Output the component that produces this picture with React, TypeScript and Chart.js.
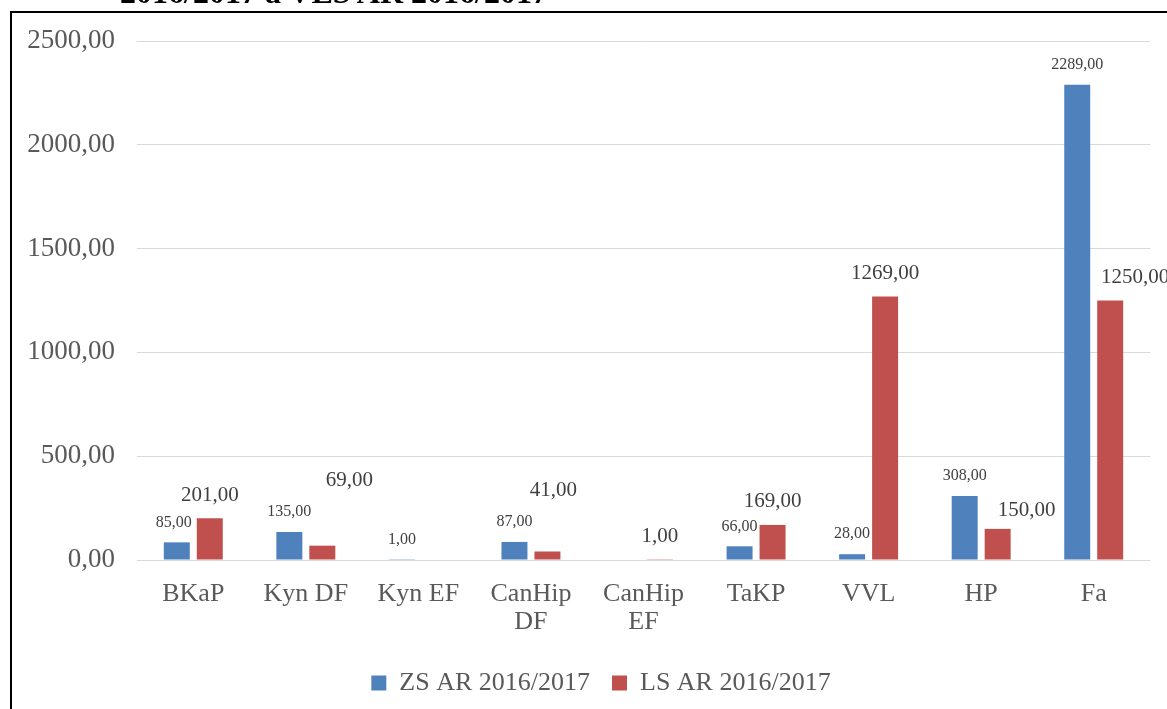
import React, { useEffect, useRef } from "react";
import { Chart, registerables } from "chart.js";

Chart.register(...registerables);

const categories: (string | string[])[] = [
  "BKaP",
  "Kyn DF",
  "Kyn EF",
  ["CanHip", "DF"],
  ["CanHip", "EF"],
  "TaKP",
  "VVL",
  "HP",
  "Fa",
];
const zsValues: (number | null)[] = [85, 135, 1, 87, null, 66, 28, 308, 2289];
const lsValues: (number | null)[] = [201, 69, null, 41, 1, 169, 1269, 150, 1250];
const yTicks = [0, 500, 1000, 1500, 2000, 2500];
const seriesNames = ["ZS AR 2016/2017", "LS AR 2016/2017"];
const titleText = "2016/2017 a VLS AR 2016/2017";

// manual nudges of individual value labels (as placed in the original)
const zsLabelShift: [number, number][] = [[-3, 0], [0, 0], [0, 0], [0, 0], [0, 0], [0, 0], [0, 0], [0, 0], [0, 0]];
const lsLabelShift: [number, number][] = [[0, 0], [27, -42], [0, 0], [6, -38], [0, 0], [0, 0], [0, 0], [29, 5], [25, 0]];

const FONT = "'Times New Roman', 'Liberation Serif', serif";
const fmt = (v: number) => v.toFixed(2).replace(".", ",");

const labelStyles = [
  { size: 16, gap: 20, shift: zsLabelShift },
  { size: 21, gap: 23, shift: lsLabelShift },
];

const valueLabels = {
  id: "valueLabels",
  afterDatasetsDraw(chart: any) {
    const ctx = chart.ctx;
    ctx.save();
    ctx.fillStyle = "#404040";
    ctx.textAlign = "center";
    ctx.textBaseline = "middle";
    chart.data.datasets.forEach((ds: any, di: number) => {
      const meta = chart.getDatasetMeta(di);
      const st = labelStyles[di];
      ctx.font = `${st.size}px ${FONT}`;
      meta.data.forEach((el: any, i: number) => {
        const v = ds.data[i];
        if (v === null || v === undefined) return;
        const [dx, dy] = st.shift[i];
        ctx.fillText(fmt(v), el.x + dx, el.y - st.gap + dy);
      });
    });
    ctx.restore();
  },
};

// the legend in the original sits a little right of the page centre
const legendShift = {
  id: "legendShift",
  afterLayout(chart: any) {
    const lg = chart.legend;
    if (lg) {
      lg.left += 26;
      lg.right += 26;
    }
  },
};

export default function App() {
  const ref = useRef<HTMLCanvasElement>(null);
  useEffect(() => {
    if (!ref.current) return;
    const chart = new Chart(ref.current, {
      type: "bar",
      data: {
        labels: categories,
        datasets: [
          {
            label: seriesNames[0],
            data: zsValues,
            backgroundColor: "#4f81bd",
            categoryPercentage: 0.586,
            barPercentage: 0.788,
          },
          {
            label: seriesNames[1],
            data: lsValues,
            backgroundColor: "#c0504d",
            categoryPercentage: 0.586,
            barPercentage: 0.788,
          },
        ],
      },
      options: {
        animation: false,
        responsive: false,
        devicePixelRatio: 1,
        layout: { padding: { left: 0, right: 17, top: 41, bottom: 3 } },
        plugins: {
          legend: {
            position: "bottom",
            labels: {
              color: "#595959",
              font: { family: FONT, size: 26 },
              boxWidth: 15,
              boxHeight: 15,
              padding: 22,
            },
          },
          tooltip: { enabled: false },
          title: { display: false },
        },
        scales: {
          x: {
            grid: { display: false },
            border: { display: false },
            ticks: {
              color: "#595959",
              font: { family: FONT, size: 26, lineHeight: 1.05 },
              padding: 13,
              maxRotation: 0,
              autoSkip: false,
            },
            afterFit: (s: any) => {
              s.height = 88;
            },
          },
          y: {
            min: 0,
            max: 2500,
            afterBuildTicks: (s: any) => {
              s.ticks = yTicks.map((v) => ({ value: v }));
            },
            grid: { color: "#d9d9d9", lineWidth: 1, drawTicks: false },
            border: { display: false },
            ticks: {
              color: "#595959",
              font: { family: FONT, size: 27 },
              padding: 22,
              callback: (v: any) => fmt(Number(v)),
            },
            afterFit: (s: any) => {
              s.width = 137;
            },
          },
        },
      },
      plugins: [valueLabels, legendShift],
    });
    return () => chart.destroy();
  }, []);

  return (
    <div
      style={{
        position: "fixed",
        left: 0,
        top: 0,
        width: 1167,
        height: 709,
        overflow: "hidden",
        background: "#fff",
      }}
    >
      <canvas
        ref={ref}
        width={1167}
        height={709}
        style={{ position: "absolute", left: 0, top: 0, width: 1167, height: 709 }}
      />
      <div
        style={{
          position: "absolute",
          left: 10,
          top: 11,
          width: 1200,
          height: 800,
          border: "2px solid #000",
          boxSizing: "border-box",
          pointerEvents: "none",
        }}
      />
      <div
        style={{
          position: "absolute",
          left: 120,
          top: -24,
          font: `bold 32px ${FONT}`,
          lineHeight: "32px",
          whiteSpace: "nowrap",
          color: "#000",
        }}
      >
        {titleText}
      </div>
    </div>
  );
}
